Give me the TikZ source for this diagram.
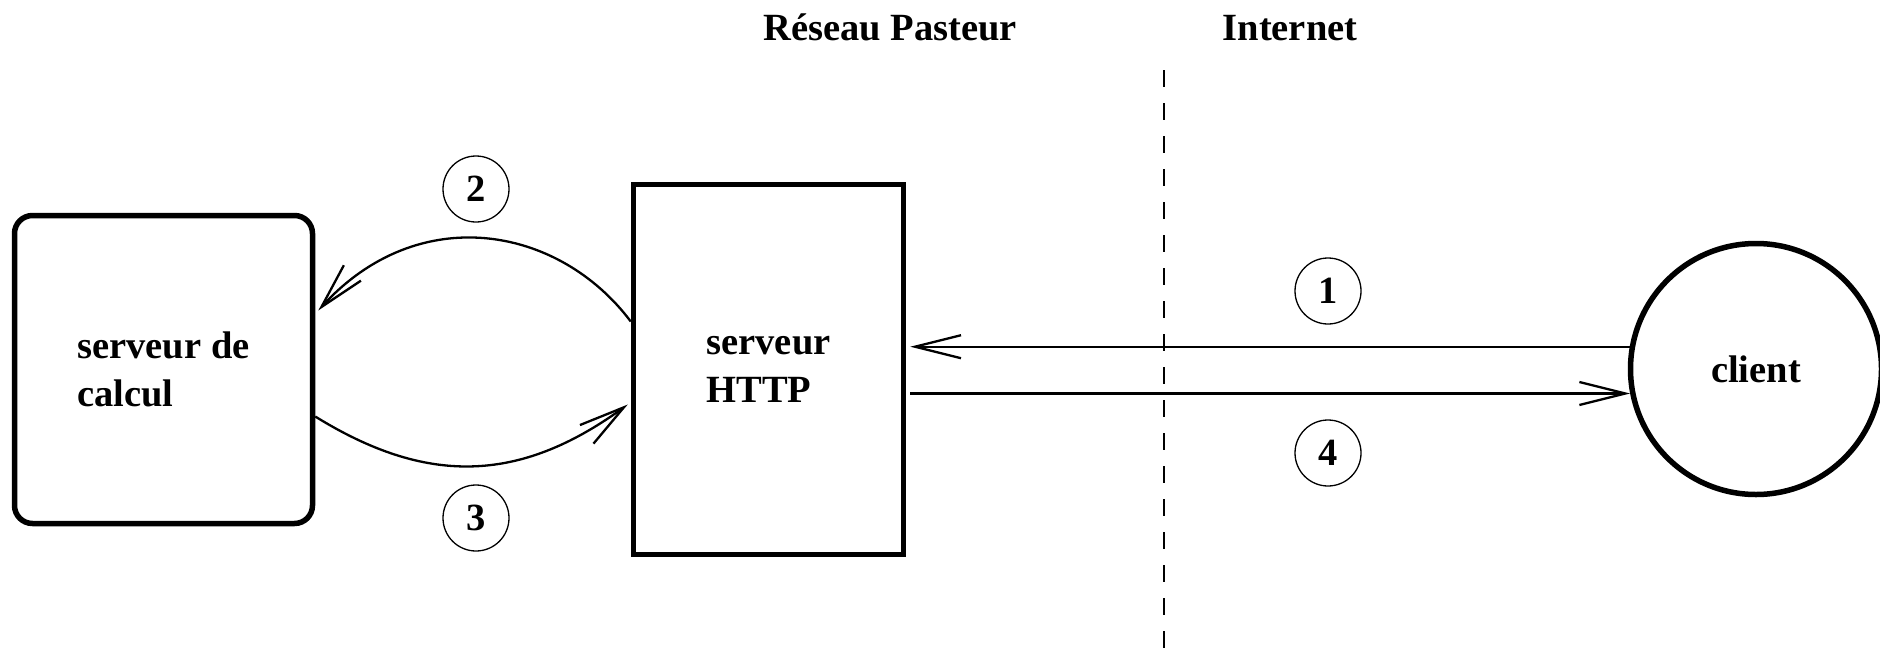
\documentclass[tikz,border=0pt]{standalone}
\usepackage{fontspec}
\setmainfont{Liberation Serif}
\usetikzlibrary{arrows.meta}
\begin{document}
\begin{tikzpicture}[x=1pt,y=-1pt,
  every node/.style={font=\fontsize{38.5}{48}\selectfont\bfseries},
  bigbox/.style={draw, line width=5.5pt, inner sep=0pt, align=left},
  numlab/.style={draw, circle, line width=1.3pt, minimum size=66pt, inner sep=0pt},
  arr/.style={line width=2.3pt, -{Straight Barb[length=46pt,width=23pt,line width=2.3pt]}},
  sep/.style={line width=2.5pt, dash pattern=on 17pt off 16pt}]
\useasboundingbox (0,0) rectangle (1880,651);
\node[bigbox, rounded corners=18pt, minimum width=298pt, minimum height=308pt] (calc) at (163.5,369.5) {serveur de\\calcul};
\node[bigbox, minimum width=270pt, minimum height=370pt] (http) at (768.5,369.5) {serveur\\HTTP};
\node[draw, circle, line width=5.5pt, minimum size=251pt, inner sep=0pt] (client) at (1756,369) {client};
\node[anchor=base] (reseau) at (890,40) {Réseau Pasteur};
\node[anchor=base] (internet) at (1290,40) {Internet};
\coordinate (septop) at (1164,70);
\coordinate (sepbot) at (1164,651);
\draw[sep] (septop) -- (sepbot);
\node[numlab] (n1) at (1328,291) {1};
\node[numlab] (n4) at (1328,453) {4};
\node[numlab] (n2) at (476,189) {2};
\node[numlab] (n3) at (476,518) {3};
\draw[arr] (client.170) -- ([xshift=4pt]http.east |- client.170);
\draw[arr] ([xshift=4pt]http.east |- client.191) -- (client.191);
\draw[arr] ([yshift=48pt]http.west) .. controls +(-72,-96) and +(100,-110) .. ([yshift=59pt,xshift=3pt]calc.east);
\draw[arr] ([yshift=-47pt]calc.east) .. controls +(110,68) and +(-110,80) .. ([yshift=-35pt,xshift=-3pt]http.west);
\end{tikzpicture}
\end{document}
